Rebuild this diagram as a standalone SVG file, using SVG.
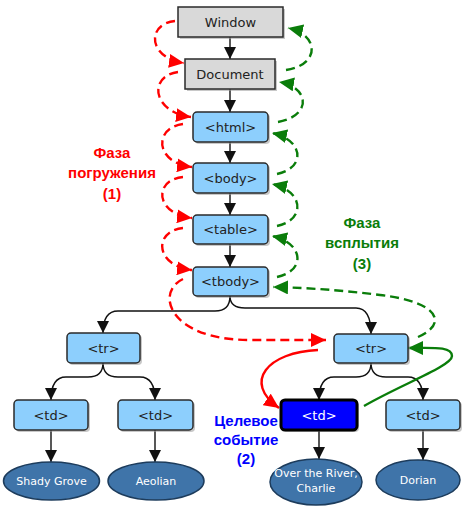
<svg xmlns="http://www.w3.org/2000/svg" width="475" height="512" viewBox="0 0 475 512">
<style>
.box{fill:#8dcffd;stroke:#2a2a2a;stroke-width:1.5}
.gbox{fill:#d9d9d9;stroke:#2a2a2a;stroke-width:1.5}
.sh{fill:#9a9a9a;opacity:.55}
.t{font-family:"DejaVu Sans",sans-serif;font-size:13px;fill:#222;text-anchor:middle}
.ell{fill:#3f74a9;stroke:#1d3c5c;stroke-width:1.5}
.et{font-family:"DejaVu Sans",sans-serif;font-size:11px;fill:#fff;text-anchor:middle}
.edge{fill:none;stroke:#111;stroke-width:1.4;marker-end:url(#ab)}
.red{fill:none;stroke:#ff0000;stroke-width:2.4;stroke-dasharray:9,5;marker-end:url(#ar)}
.redS{fill:none;stroke:#ff0000;stroke-width:2.4;marker-end:url(#ar)}
.grn{fill:none;stroke:#0a7d0a;stroke-width:2.4;stroke-dasharray:9,5;marker-end:url(#ag)}
.grnS{fill:none;stroke:#0a7d0a;stroke-width:2.4;marker-end:url(#ag)}
.lbl{font-family:"Liberation Sans",Arial,sans-serif;font-size:15px;font-weight:bold;text-anchor:middle}
</style>
<defs>
<marker id="ab" markerUnits="userSpaceOnUse" markerWidth="12" markerHeight="12" viewBox="0 0 10 10" refX="10" refY="5" orient="auto"><path d="M0,0 L10,5 L0,10 Z" fill="#111"/></marker>
<marker id="ar" markerUnits="userSpaceOnUse" markerWidth="15" markerHeight="14" viewBox="0 0 15 14" refX="15" refY="7" orient="auto"><path d="M0,0 L15,7 L0,14 Z" fill="#ff0000"/></marker>
<marker id="ag" markerUnits="userSpaceOnUse" markerWidth="15" markerHeight="14" viewBox="0 0 15 14" refX="15" refY="7" orient="auto"><path d="M0,0 L15,7 L0,14 Z" fill="#0a7d0a"/></marker>
</defs>
<rect width="475" height="512" fill="#fff"/>

<g id="connectors">
<path class="edge" d="M230,37 L230,59"/>
<path class="edge" d="M230,89 L230,112"/>
<path class="edge" d="M230,142 L230,163"/>
<path class="edge" d="M230,193 L230,215"/>
<path class="edge" d="M230,244 L230,267"/>
<path class="edge" d="M230,296 Q230,311 215,311 L118,311 Q103,311 103,333"/>
<path class="edge" d="M230,296 Q230,308 245,308 L356,308 Q371,308 371,334"/>
<path class="edge" d="M103,363 Q103,377 88,377 L66,377 Q51,377 51,400"/>
<path class="edge" d="M103,363 Q103,377 118,377 L140,377 Q155,377 155,400"/>
<path class="edge" d="M371,363 Q371,377 356,377 L334,377 Q319,377 319,400"/>
<path class="edge" d="M371,363 Q371,377 386,377 L408,377 Q423,377 423,400"/>
<path class="edge" d="M51,430 L51,462"/>
<path class="edge" d="M155,430 L155,462"/>
<path class="edge" d="M319,430 L319,459"/>
<path class="edge" d="M423,430 L423,460"/>

<path class="red" d="M175,21 C146,24 148,58 184,63"/>
<path class="red" d="M178,72 C148,76 152,112 191,117"/>
<path class="red" d="M183,124 C153,128 155,163 192,167"/>
<path class="red" d="M183,177 C153,180 155,214 192,218"/>
<path class="red" d="M183,228 C153,231 155,266 192,270"/>
<path class="red" d="M183,279 C155,292 168,340 250,340 L326,340"/>
<path class="redS" d="M318,350 C268,352 242,382 279,408"/>

<path class="grn" d="M286,70 C320,65 320,35 288,28"/>
<path class="grn" d="M278,122 C312,116 310,87 279,82"/>
<path class="grn" d="M277,174 C306,168 304,140 272,133"/>
<path class="grn" d="M277,226 C306,220 304,191 272,184"/>
<path class="grn" d="M277,277 C306,271 304,243 272,236"/>
<path class="grn" d="M418,337 C448,324 440,302 380,295 C340,290 310,288 273,287"/>
<path class="grnS" d="M364,406 C402,384 452,366 452,356 C452,346 432,348 408,348"/>
</g>

<g id="window"><rect class="sh" x="180" y="9" width="105" height="30"/><rect class="gbox" x="178" y="7" width="105" height="30"/><text class="t" x="230.5" y="26.5">Window</text></g>
<g id="document"><rect class="sh" x="187" y="61" width="90" height="30"/><rect class="gbox" x="185" y="59" width="90" height="30"/><text class="t" x="230" y="78.5">Document</text></g>
<g id="html"><rect class="sh" x="195" y="114" width="75" height="30" rx="4"/><rect class="box" x="193" y="112" width="75" height="30" rx="4"/><text class="t" x="230.5" y="131.5">&lt;html&gt;</text></g>
<g id="body"><rect class="sh" x="195" y="165" width="75" height="30" rx="4"/><rect class="box" x="193" y="163" width="75" height="30" rx="4"/><text class="t" x="230.5" y="182.5">&lt;body&gt;</text></g>
<g id="table"><rect class="sh" x="195" y="217" width="75" height="29" rx="4"/><rect class="box" x="193" y="215" width="75" height="29" rx="4"/><text class="t" x="230.5" y="234">&lt;table&gt;</text></g>
<g id="tbody"><rect class="sh" x="195" y="269" width="75" height="29" rx="4"/><rect class="box" x="193" y="267" width="75" height="29" rx="4"/><text class="t" x="230.5" y="286">&lt;tbody&gt;</text></g>

<g id="tr1"><rect class="sh" x="69" y="335" width="73" height="30" rx="4"/><rect class="box" x="67" y="333" width="73" height="30" rx="4"/><text class="t" x="103.5" y="352.5">&lt;tr&gt;</text></g>
<g id="tr2"><rect class="sh" x="336" y="336" width="74" height="29" rx="4"/><rect class="box" x="334" y="334" width="74" height="29" rx="4"/><text class="t" x="371" y="353">&lt;tr&gt;</text></g>

<g id="td1"><rect class="sh" x="16" y="402" width="74" height="30" rx="4"/><rect class="box" x="14" y="400" width="74" height="30" rx="4"/><text class="t" x="51" y="419.5">&lt;td&gt;</text></g>
<g id="td2"><rect class="sh" x="120" y="402" width="75" height="30" rx="4"/><rect class="box" x="118" y="400" width="75" height="30" rx="4"/><text class="t" x="155.5" y="419.5">&lt;td&gt;</text></g>
<g id="td3"><rect class="sh" x="283" y="402" width="76" height="30" rx="4"/><rect x="281" y="400" width="76" height="30" rx="4" fill="#0000ff" stroke="#000" stroke-width="3"/><text class="t" x="319" y="419.5" style="fill:#fff">&lt;td&gt;</text></g>
<g id="td4"><rect class="sh" x="388" y="402" width="74" height="30" rx="4"/><rect class="box" x="386" y="400" width="74" height="30" rx="4"/><text class="t" x="423" y="419.5">&lt;td&gt;</text></g>

<g id="shady"><ellipse class="ell" cx="51.5" cy="481" rx="48" ry="19"/><text class="et" x="51.5" y="485">Shady Grove</text></g>
<g id="aeolian"><ellipse class="ell" cx="156" cy="481" rx="48" ry="19"/><text class="et" x="156" y="485">Aeolian</text></g>
<g id="over"><ellipse class="ell" cx="316" cy="482" rx="46" ry="23"/><text class="et" x="316" y="477">Over the River,</text><text class="et" x="316" y="492">Charlie</text></g>
<g id="dorian"><ellipse class="ell" cx="418" cy="480" rx="42" ry="20"/><text class="et" x="418" y="484">Dorian</text></g>

<g id="labels">
<text class="lbl" fill="#ff0000" x="112" y="158">Фаза</text>
<text class="lbl" fill="#ff0000" x="112" y="178">погружения</text>
<text class="lbl" fill="#ff0000" x="112" y="199">(1)</text>
<text class="lbl" fill="#0a7d0a" x="362" y="228">Фаза</text>
<text class="lbl" fill="#0a7d0a" x="362" y="248">всплытия</text>
<text class="lbl" fill="#0a7d0a" x="362" y="269">(3)</text>
<text class="lbl" fill="#0000ff" x="246" y="426">Целевое</text>
<text class="lbl" fill="#0000ff" x="246" y="445">событие</text>
<text class="lbl" fill="#0000ff" x="246" y="464">(2)</text>
</g>
</svg>
